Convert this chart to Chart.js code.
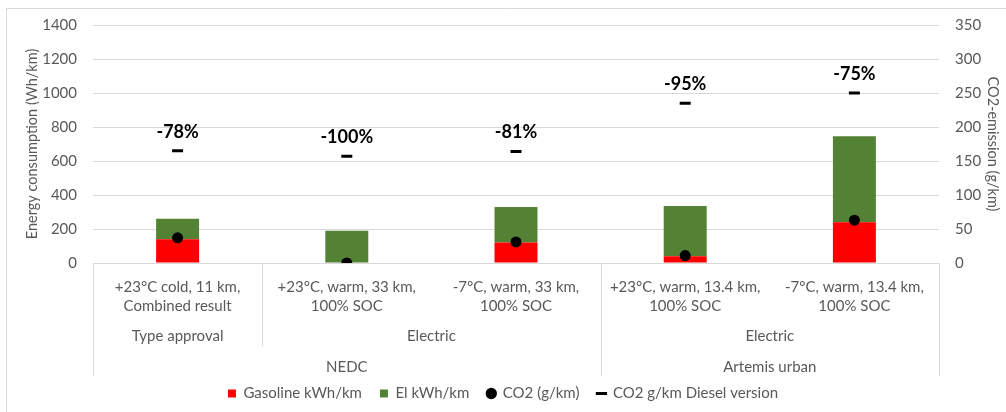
<!DOCTYPE html>
<html>
<head>
<meta charset="utf-8">
<script src="https://cdn.jsdelivr.net/npm/chart.js@4"></script>
<style>
  html, body { margin: 0; padding: 0; background: #fff; }
  #wrap { position: relative; width: 1006px; height: 412px; }
</style>
</head>
<body>
<div id="wrap"><canvas id="chart"></canvas></div>
<script>
// Categories (bottom row of the x axis) and the two grouping rows below it
const categories = [
    ['+23°C cold, 11 km,', 'Combined result'],
    ['+23°C, warm, 33 km,', '100% SOC'],
    ['-7°C, warm, 33 km,', '100% SOC'],
    ['+23°C, warm, 13.4 km,', '100% SOC'],
    ['-7°C, warm, 13.4 km,', '100% SOC']
];
const modeLabels = ['Type approval', 'Electric', 'Electric'];
const modeSpans = [[0, 0], [1, 2], [3, 4]];
const cycleLabels = ['NEDC', 'Artemis urban'];
const cycleSpans = [[0, 2], [3, 4]];

// Series (Wh/km on the left axis, g/km on the right axis)
const gasoline = [140, 0, 120, 40, 240];
const electric = [120, 190, 210, 295, 505];
const co2 = [37, 0, 31, 11, 63];
const co2Diesel = [165, 157, 164, 235, 250];
const reduction = ['-78%', '-100%', '-81%', '-95%', '-75%'];

// Axis ranges
const energyMax = 1400, energyStep = 200;
const co2Max = 350, co2Step = 50;

const FONT = 'Lato, "Open Sans", sans-serif';
const GREY = '#595959';
const GRID = '#d9d9d9';

// Draws the chart frame, the multi-level category rows and the % labels
const extras = {
    id: 'extras',
    beforeDraw(chart) {
        const ctx = chart.ctx;
        ctx.save();
        ctx.strokeStyle = GRID;
        ctx.lineWidth = 1;
        ctx.beginPath();
        ctx.moveTo(6.5, chart.height);
        ctx.lineTo(6.5, 8.5);
        ctx.lineTo(chart.width, 8.5);
        ctx.stroke();
        ctx.restore();
    },
    afterDatasetsDraw(chart) {
        const ctx = chart.ctx;
        const meta = chart.getDatasetMeta(3);
        ctx.save();
        ctx.font = 'bold 18px ' + FONT;
        ctx.fillStyle = '#000';
        ctx.textAlign = 'center';
        ctx.textBaseline = 'middle';
        meta.data.forEach((pt, i) => ctx.fillText(reduction[i], pt.x, pt.y - 19));
        ctx.restore();
    },
    afterDraw(chart) {
        const ctx = chart.ctx;
        const x = chart.scales.x;
        const top = chart.chartArea.bottom;
        const half = (x.getPixelForValue(1) - x.getPixelForValue(0)) / 2;
        const edge = i => Math.round(x.getPixelForValue(i) - half) + 0.5;
        const mid = span => (x.getPixelForValue(span[0]) + x.getPixelForValue(span[1])) / 2;

        ctx.save();
        ctx.strokeStyle = GRID;
        ctx.lineWidth = 1;
        const vline = (px, len) => {
            ctx.beginPath();
            ctx.moveTo(px, top);
            ctx.lineTo(px, top + len);
            ctx.stroke();
        };
        modeSpans.forEach(s => vline(edge(s[0]), 83));
        cycleSpans.forEach(s => { vline(edge(s[0]), 113); vline(edge(s[1] + 1), 113); });

        ctx.font = '15px ' + FONT;
        ctx.fillStyle = GREY;
        ctx.textAlign = 'center';
        ctx.textBaseline = 'middle';
        modeSpans.forEach((s, i) => ctx.fillText(modeLabels[i], mid(s), top + 73));
        cycleSpans.forEach((s, i) => ctx.fillText(cycleLabels[i], mid(s), top + 104));
        ctx.restore();
    }
};

new Chart(document.getElementById('chart'), {
    type: 'bar',
    data: {
        labels: categories,
        datasets: [
            {
                label: 'Gasoline kWh/km',
                data: gasoline,
                backgroundColor: '#ff0000',
                pointStyle: 'rect',
                yAxisID: 'y',
                order: 2
            },
            {
                label: 'El kWh/km',
                data: electric,
                backgroundColor: '#548235',
                pointStyle: 'rect',
                yAxisID: 'y',
                order: 2
            },
            {
                type: 'line',
                label: 'CO2 (g/km)',
                data: co2,
                showLine: false,
                pointStyle: 'circle',
                pointRadius: 5.5,
                pointBackgroundColor: '#000',
                pointBorderColor: '#000',
                pointBorderWidth: 0,
                yAxisID: 'y1',
                order: 1
            },
            {
                type: 'line',
                label: 'CO2 g/km Diesel version',
                data: co2Diesel,
                showLine: false,
                pointStyle: 'line',
                pointRadius: 5.5,
                pointBorderColor: '#000',
                pointBackgroundColor: '#000',
                pointBorderWidth: 3,
                yAxisID: 'y1',
                order: 1
            }
        ]
    },
    options: {
        responsive: true,
        maintainAspectRatio: false,
        animation: false,
        categoryPercentage: 1,
        barPercentage: 0.254,
        layout: { padding: { top: 16, left: 0, right: 0, bottom: 1 } },
        plugins: {
            tooltip: { enabled: false },
            legend: {
                position: 'bottom',
                labels: {
                    usePointStyle: true,
                    boxWidth: 8,
                    boxHeight: 8,
                    padding: 18,
                    color: GREY,
                    font: { family: FONT, size: 15 },
                    sort: (a, b) => a.datasetIndex - b.datasetIndex
                }
            }
        },
        scales: {
            x: {
                stacked: true,
                grid: { display: false },
                border: { display: false },
                ticks: {
                    color: GREY,
                    font: { family: FONT, size: 15, lineHeight: 1.3 },
                    maxRotation: 0,
                    autoSkip: false,
                    padding: 6
                },
                afterFit(scale) { scale.height = 105; }
            },
            y: {
                stacked: true,
                position: 'left',
                min: 0,
                max: energyMax,
                ticks: {
                    stepSize: energyStep,
                    color: GREY,
                    padding: 16,
                    font: { family: FONT, size: 15 },
                    callback: v => String(v)
                },
                grid: { color: GRID, drawTicks: false },
                border: { display: false },
                title: {
                    display: true,
                    text: 'Energy consumption (Wh/km)',
                    color: GREY,
                    padding: { top: 23.3 },
                    font: { family: FONT, size: 14.5 }
                },
                afterFit(scale) { scale.width = 93; }
            },
            y1: {
                position: 'right',
                min: 0,
                max: co2Max,
                ticks: {
                    stepSize: co2Step,
                    color: GREY,
                    padding: 16,
                    font: { family: FONT, size: 15 },
                    callback: v => String(v)
                },
                grid: { drawOnChartArea: false, drawTicks: false },
                border: { display: false },
                title: {
                    display: true,
                    text: 'CO2-emission (g/km)',
                    color: GREY,
                    padding: { top: 4.3 },
                    font: { family: FONT, size: 14.5 }
                },
                afterFit(scale) { scale.width = 67; }
            }
        }
    },
    plugins: [extras]
});
</script>
</body>
</html>
